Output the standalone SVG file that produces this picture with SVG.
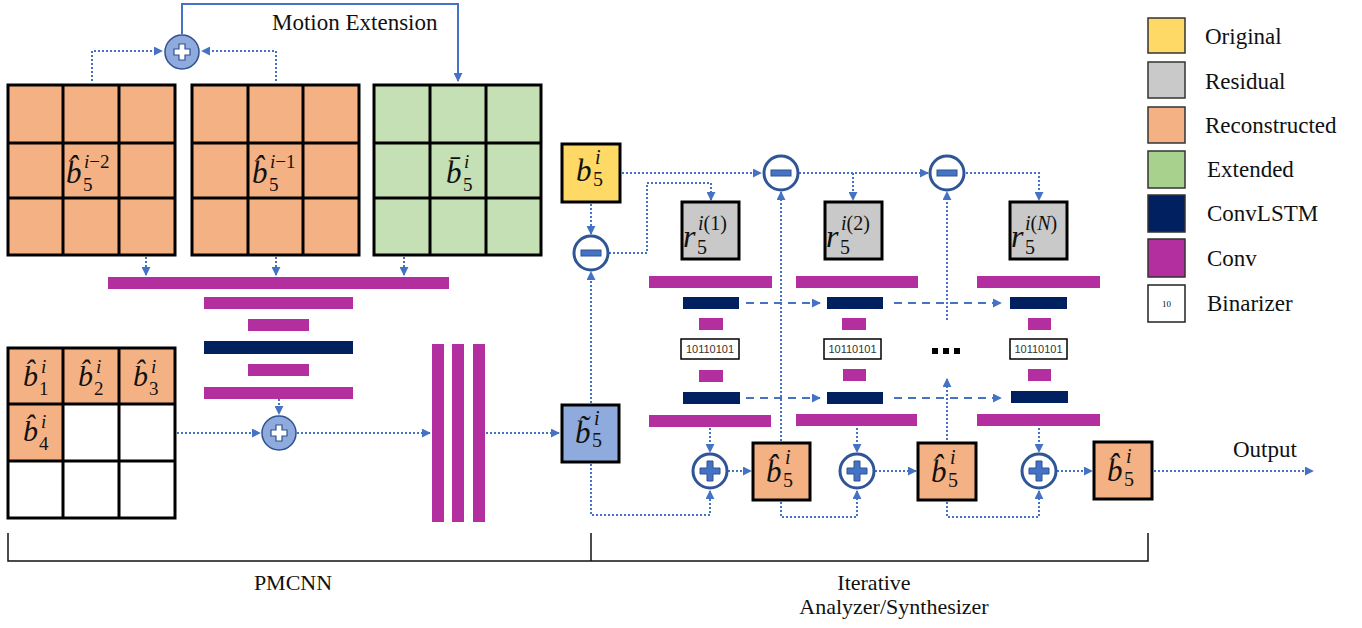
<svg xmlns="http://www.w3.org/2000/svg" width="1362" height="628" viewBox="0 0 1362 628">
<style>
.cell{stroke:#000;stroke-width:3}
.rec{fill:#F4B183}
.blk{stroke:#000;stroke-width:3}
.conv{fill:#B32E9F}
.lstm{fill:#002060}
.dot{fill:none;stroke:#4472C4;stroke-width:2;stroke-dasharray:2 2}
.dash{fill:none;stroke:#4472C4;stroke-width:2;stroke-dasharray:8 6}
.solid{fill:none;stroke:#4472C4;stroke-width:2}
.t{font-family:"Liberation Serif","Times New Roman",serif;fill:#111}
.m{font-family:"Liberation Serif","DejaVu Serif",serif;font-style:italic;fill:#111}
.n{font-family:"Liberation Serif","DejaVu Serif",serif;font-style:normal;fill:#111}
.bz{font-family:"Liberation Sans",Arial,sans-serif;font-size:11px;fill:#333}
.opc{fill:#fff;stroke:#2F5597;stroke-width:3}
.sym{fill:#4472C4;stroke:#2F528F;stroke-width:1}
</style>
<defs>
<marker id="ah" viewBox="0 0 10 10" refX="9" refY="5" markerWidth="4.5" markerHeight="4.5" orient="auto"><path d="M0,0 L10,5 L0,10z" fill="#4472C4"/></marker>
</defs>

<!-- Connectors -->
<g id="connectors">
<path class="solid" d="M182,34 V4 H458 V81" marker-end="url(#ah)"/>
<path class="dot" d="M92,81 V51 H162" marker-end="url(#ah)"/>
<path class="dot" d="M276,81 V51 H202" marker-end="url(#ah)"/>
<path class="dot" d="M146,257 V275" marker-end="url(#ah)"/>
<path class="dot" d="M276,257 V275" marker-end="url(#ah)"/>
<path class="dot" d="M404,257 V275" marker-end="url(#ah)"/>
<path class="dot" d="M279,399 V414" marker-end="url(#ah)"/>
<path class="dot" d="M177,433 H260" marker-end="url(#ah)"/>
<path class="dot" d="M297,433 H430" marker-end="url(#ah)"/>
<path class="dot" d="M486,433 H559" marker-end="url(#ah)"/>
<path class="dot" d="M591,403 V272" marker-end="url(#ah)"/>
<path class="dot" d="M591,204 V234" marker-end="url(#ah)"/>
<path class="dot" d="M609,253 H647 V183 H711 V200" marker-end="url(#ah)"/>
<path class="dot" d="M622,173 H761" marker-end="url(#ah)"/>
<path class="dot" d="M799,173 H928" marker-end="url(#ah)"/>
<path class="dot" d="M853,173 V200" marker-end="url(#ah)"/>
<path class="dot" d="M966,173 H1039 V200" marker-end="url(#ah)"/>
<path class="dot" d="M781,441 V192" marker-end="url(#ah)"/>
<path class="dot" d="M947,440 V379" marker-end="url(#ah)"/>
<path class="dot" d="M947,320 V192" marker-end="url(#ah)"/>
<path class="dot" d="M710,428 V452" marker-end="url(#ah)"/>
<path class="dot" d="M857,428 V452" marker-end="url(#ah)"/>
<path class="dot" d="M1039,428 V452" marker-end="url(#ah)"/>
<path class="dot" d="M728,471 H751" marker-end="url(#ah)"/>
<path class="dot" d="M875,471 H916" marker-end="url(#ah)"/>
<path class="dot" d="M1057,471 H1092" marker-end="url(#ah)"/>
<path class="dot" d="M1154,471 H1313" marker-end="url(#ah)"/>
<path class="dot" d="M591,464 V515 H710 V491" marker-end="url(#ah)"/>
<path class="dot" d="M781,502 V517 H857 V491" marker-end="url(#ah)"/>
<path class="dot" d="M947,502 V517 H1039 V491" marker-end="url(#ah)"/>
<path class="dash" d="M746,303 H820" marker-end="url(#ah)"/>
<path class="dash" d="M894,303 H1001" marker-end="url(#ah)"/>
<path class="dash" d="M746,398 H820" marker-end="url(#ah)"/>
<path class="dash" d="M894,398 H1001" marker-end="url(#ah)"/>
</g>

<text class="t" x="272" y="30" font-size="23">Motion Extension</text>

<!-- Top grids -->
<g id="grid-prev2">
<rect class="rec cell" x="8" y="85" width="167" height="170"/>
<path class="cell" d="M63,85 V255 M119,85 V255 M8,143 H175 M8,198 H175"/>
<text class="m" x="66" y="183" font-size="31">b̂</text>
<text class="m" x="84" y="168" font-size="19">i<tspan class="n">−2</tspan></text>
<text class="n" x="83" y="191" font-size="19">5</text>
</g>
<g id="grid-prev1">
<rect class="rec cell" x="192" y="85" width="167" height="170"/>
<path class="cell" d="M248,85 V255 M303,85 V255 M192,143 H359 M192,198 H359"/>
<text class="m" x="252" y="183" font-size="31">b̂</text>
<text class="m" x="270" y="168" font-size="19">i<tspan class="n">−1</tspan></text>
<text class="n" x="269" y="191" font-size="19">5</text>
</g>
<g id="grid-ext">
<rect class="cell" fill="#C5E0B4" x="374" y="85" width="167" height="170"/>
<path class="cell" d="M430,85 V255 M486,85 V255 M374,143 H541 M374,198 H541"/>
<text class="m" x="446" y="183" font-size="31">b̄</text>
<text class="m" x="464" y="168" font-size="19">i</text>
<text class="n" x="463" y="191" font-size="19">5</text>
</g>

<!-- Top plus -->
<g id="plus-motion">
<circle cx="182" cy="52" r="17" fill="#8FAADC" stroke="#2F528F" stroke-width="1.5"/>
<path d="M179,44 h6 v5 h5 v6 h-5 v5 h-6 v-5 h-5 v-6 h5z" fill="#fff" stroke="#2F528F" stroke-width="1.2"/>
</g>

<!-- PMCNN conv stack -->
<g id="pmcnn-stack">
<rect class="conv" x="108" y="277" width="341" height="12"/>
<rect class="conv" x="204" y="297" width="149" height="12"/>
<rect class="conv" x="248" y="319" width="61" height="12"/>
<rect class="lstm" x="204" y="341" width="149" height="13"/>
<rect class="conv" x="248" y="364" width="61" height="12"/>
<rect class="conv" x="204" y="387" width="149" height="12"/>
</g>
<g id="plus-pmcnn">
<circle cx="279" cy="433" r="17" fill="#8FAADC" stroke="#2F528F" stroke-width="1.5"/>
<path d="M276,425 h6 v5 h5 v6 h-5 v5 h-6 v-5 h-5 v-6 h5z" fill="#fff" stroke="#2F528F" stroke-width="1.2"/>
</g>
<g id="pmcnn-vbars">
<rect class="conv" x="432" y="344" width="12" height="178"/>
<rect class="conv" x="452" y="344" width="12" height="178"/>
<rect class="conv" x="473" y="344" width="12" height="178"/>
</g>

<!-- Bottom-left grid -->
<g id="grid-current">
<rect fill="#fff" x="8" y="348" width="167" height="170"/>
<rect class="rec" x="8" y="348" width="167" height="56"/>
<rect class="rec" x="8" y="404" width="55" height="57"/>
<rect class="cell" fill="none" x="8" y="348" width="167" height="170"/>
<path class="cell" d="M63,348 V518 M119,348 V518 M8,404 H175 M8,461 H175"/>
<text class="m" x="23" y="386" font-size="30">b̂</text>
<text class="m" x="41" y="373" font-size="19">i</text>
<text class="n" x="39" y="395" font-size="19">1</text>
<text class="m" x="78" y="386" font-size="30">b̂</text>
<text class="m" x="96" y="373" font-size="19">i</text>
<text class="n" x="94" y="395" font-size="19">2</text>
<text class="m" x="133" y="386" font-size="30">b̂</text>
<text class="m" x="151" y="373" font-size="19">i</text>
<text class="n" x="149" y="395" font-size="19">3</text>
<text class="m" x="23" y="441" font-size="30">b̂</text>
<text class="m" x="41" y="428" font-size="19">i</text>
<text class="n" x="39" y="450" font-size="19">4</text>
</g>

<!-- Right side -->
<g id="orig-b5">
<rect class="blk" fill="#FFD966" x="562" y="144" width="58" height="58"/>
<text class="m" x="576" y="181" font-size="31">b</text>
<text class="m" x="595" y="164" font-size="20">i</text>
<text class="n" x="593" y="186" font-size="20">5</text>
</g>
<g id="pred-b5">
<rect class="blk" fill="#8FAADC" x="562" y="405" width="57" height="57"/>
<text class="m" x="575" y="443" font-size="31">b̃</text>
<text class="m" x="594" y="425" font-size="20">i</text>
<text class="n" x="592" y="447" font-size="20">5</text>
</g>
<g id="minus-0">
<circle class="opc" cx="591" cy="253" r="17"/>
<rect class="sym" x="581" y="250" width="20" height="6"/>
</g>
<g id="minus-1">
<circle class="opc" cx="781" cy="173" r="17"/>
<rect class="sym" x="771" y="170" width="20" height="6"/>
</g>
<g id="minus-2">
<circle class="opc" cx="947" cy="173" r="17"/>
<rect class="sym" x="937" y="170" width="20" height="6"/>
</g>

<g id="res-1">
<rect class="blk" fill="#C9C9C9" x="682" y="202" width="57" height="57"/>
<text class="m" x="683" y="247" font-size="32">r</text>
<text class="n" x="697" y="254" font-size="20">5</text>
<text class="m" x="698" y="230" font-size="20">i<tspan class="n">(1)</tspan></text>
</g>
<g id="res-2">
<rect class="blk" fill="#C9C9C9" x="825" y="202" width="57" height="57"/>
<text class="m" x="826" y="247" font-size="32">r</text>
<text class="n" x="840" y="254" font-size="20">5</text>
<text class="m" x="841" y="230" font-size="20">i<tspan class="n">(2)</tspan></text>
</g>
<g id="res-N">
<rect class="blk" fill="#C9C9C9" x="1010" y="202" width="57" height="57"/>
<text class="m" x="1011" y="247" font-size="32">r</text>
<text class="n" x="1025" y="254" font-size="20">5</text>
<text class="m" x="1025" y="230" font-size="20">i<tspan class="n">(</tspan>N<tspan class="n">)</tspan></text>
</g>

<g id="stack-1">
<rect class="conv" x="649" y="276" width="123" height="12"/>
<rect class="lstm" x="683" y="297" width="56" height="12"/>
<rect class="conv" x="699" y="318" width="24" height="12"/>
<rect fill="#fff" stroke="#000" stroke-width="1.5" x="681" y="339" width="58" height="20"/>
<text class="bz" x="710" y="353" text-anchor="middle">10110101</text>
<rect class="conv" x="699" y="370" width="24" height="12"/>
<rect class="lstm" x="683" y="392" width="57" height="12"/>
<rect class="conv" x="649" y="415" width="122" height="12"/>
</g>
<g id="stack-2">
<rect class="conv" x="796" y="276" width="122" height="12"/>
<rect class="lstm" x="827" y="297" width="56" height="12"/>
<rect class="conv" x="842" y="318" width="24" height="12"/>
<rect fill="#fff" stroke="#000" stroke-width="1.5" x="824" y="339" width="57" height="20"/>
<text class="bz" x="852.5" y="353" text-anchor="middle">10110101</text>
<rect class="conv" x="843" y="369" width="23" height="12"/>
<rect class="lstm" x="827" y="392" width="56" height="12"/>
<rect class="conv" x="796" y="414" width="121" height="12"/>
</g>
<g id="ellipsis">
<rect fill="#000" x="932" y="348" width="6" height="6"/>
<rect fill="#000" x="943" y="348" width="6" height="6"/>
<rect fill="#000" x="954" y="348" width="6" height="6"/>
</g>
<g id="stack-N">
<rect class="conv" x="977" y="276" width="123" height="12"/>
<rect class="lstm" x="1010" y="297" width="57" height="12"/>
<rect class="conv" x="1028" y="318" width="23" height="12"/>
<rect fill="#fff" stroke="#000" stroke-width="1.5" x="1010" y="339" width="57" height="20"/>
<text class="bz" x="1038.5" y="353" text-anchor="middle">10110101</text>
<rect class="conv" x="1028" y="369" width="23" height="12"/>
<rect class="lstm" x="1011" y="391" width="57" height="12"/>
<rect class="conv" x="977" y="414" width="123" height="12"/>
</g>

<g id="plus-1">
<circle class="opc" cx="710" cy="471" r="17"/>
<path class="sym" d="M707,461 h6 v7 h7 v6 h-7 v7 h-6 v-7 h-7 v-6 h7z"/>
</g>
<g id="plus-2">
<circle class="opc" cx="857" cy="471" r="17"/>
<path class="sym" d="M854,461 h6 v7 h7 v6 h-7 v7 h-6 v-7 h-7 v-6 h7z"/>
</g>
<g id="plus-N">
<circle class="opc" cx="1039" cy="471" r="17"/>
<path class="sym" d="M1036,461 h6 v7 h7 v6 h-7 v7 h-6 v-7 h-7 v-6 h7z"/>
</g>

<g id="rec-1">
<rect class="blk rec" x="753" y="443" width="57" height="57"/>
<text class="m" x="766" y="482" font-size="31">b̂</text>
<text class="m" x="785" y="464" font-size="20">i</text>
<text class="n" x="783" y="487" font-size="20">5</text>
</g>
<g id="rec-2">
<rect class="blk rec" x="918" y="443" width="58" height="57"/>
<text class="m" x="931" y="482" font-size="31">b̂</text>
<text class="m" x="950" y="464" font-size="20">i</text>
<text class="n" x="948" y="487" font-size="20">5</text>
</g>
<g id="rec-N">
<rect class="blk rec" x="1094" y="442" width="58" height="57"/>
<text class="m" x="1107" y="481" font-size="31">b̂</text>
<text class="m" x="1126" y="463" font-size="20">i</text>
<text class="n" x="1124" y="486" font-size="20">5</text>
</g>
<text class="t" x="1233" y="457" font-size="23">Output</text>

<!-- Braces -->
<g id="brackets">
<path d="M8,533 V561 H1148 V533 M591,533 V561" fill="none" stroke="#111" stroke-width="1.5"/>
<text class="t" x="293" y="590" font-size="22" text-anchor="middle">PMCNN</text>
<text class="t" x="874" y="590" font-size="22" text-anchor="middle">Iterative</text>
<text class="t" x="894" y="614" font-size="22" text-anchor="middle">Analyzer/Synthesizer</text>
</g>

<!-- Legend -->
<g id="legend">
<rect x="1148" y="18" width="37" height="35" fill="#FFD966" stroke="#333" stroke-width="1.5"/>
<text class="t" x="1205" y="44" font-size="23">Original</text>
<rect x="1148" y="62" width="37" height="36" fill="#C9C9C9" stroke="#333" stroke-width="1.5"/>
<text class="t" x="1205" y="89" font-size="23">Residual</text>
<rect x="1148" y="107" width="37" height="36" fill="#F4B183" stroke="#333" stroke-width="1.5"/>
<text class="t" x="1205" y="133" font-size="23">Reconstructed</text>
<rect x="1148" y="151" width="37" height="37" fill="#A9D18E" stroke="#333" stroke-width="1.5"/>
<text class="t" x="1207" y="177" font-size="23">Extended</text>
<rect x="1148" y="195" width="37" height="37" fill="#002060" stroke="#333" stroke-width="1.5"/>
<text class="t" x="1207" y="221" font-size="23">ConvLSTM</text>
<rect x="1148" y="239" width="37" height="38" fill="#B32E9F" stroke="#333" stroke-width="1.5"/>
<text class="t" x="1207" y="266" font-size="23">Conv</text>
<rect x="1148" y="285" width="37" height="37" fill="#fff" stroke="#222" stroke-width="1.5"/>
<text class="t" x="1166.5" y="307" font-size="9" text-anchor="middle">10</text>
<text class="t" x="1207" y="311" font-size="23">Binarizer</text>
</g>
</svg>
